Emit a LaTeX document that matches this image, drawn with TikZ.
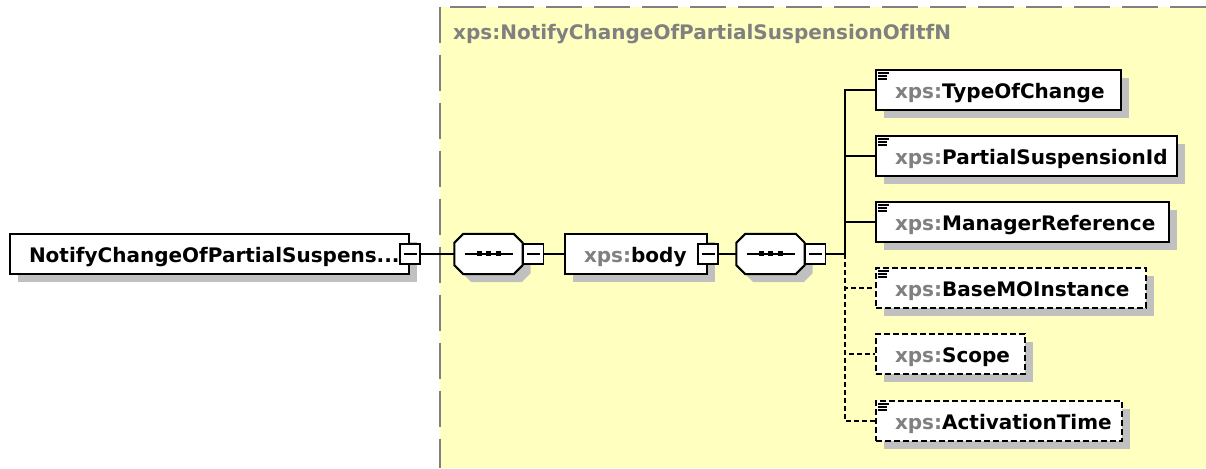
\documentclass[tikz,border=0pt]{standalone}
\usepackage{fontspec}
\setmainfont{DejaVu Sans}
\usetikzlibrary{shadows}
\definecolor{xpsgray}{RGB}{128,128,128}
\definecolor{shadowgray}{RGB}{192,192,192}
\definecolor{groupyellow}{RGB}{255,255,192}
\newcommand{\xpsprefix}{\textcolor{xpsgray}{xps:}}
\tikzset{
  boxshadow/.style={general shadow={fill=shadowgray, shadow xshift=8pt, shadow yshift=-8pt}},
  elem/.style={rectangle, draw, line width=2pt, fill=white, anchor=west,
    minimum height=40pt, inner ysep=0pt, inner xsep=19pt, text width=#1, align=left,
    text height=21.6pt, text depth=4pt, boxshadow},
  optelem/.style={elem=#1, dash pattern=on 6pt off 3pt},
  listicon/.style={path picture={
    \draw[solid, black, line width=1.2pt]
      ([xshift=2pt,yshift=-3pt]path picture bounding box.north west) -- ++(11,0)
      ([xshift=2pt,yshift=-6pt]path picture bounding box.north west) -- ++(9,0)
      ([xshift=2pt,yshift=-9pt]path picture bounding box.north west) -- ++(9,0);}},
  seqbox/.style={rectangle, minimum width=68pt, minimum height=40pt, inner sep=0pt},
  minusbox/.style={rectangle, draw, line width=1.6pt, fill=white, minimum size=20pt, inner sep=0pt,
    path picture={\draw[black, line width=1.5pt] ([xshift=-6.5pt]path picture bounding box.center) -- ([xshift=6.5pt]path picture bounding box.center);}},
  conn/.style={line width=1.3pt},
  optline/.style={dash pattern=on 5pt off 3pt},
  groupborder/.style={xpsgray, line width=2pt, dash pattern=on 36pt off 12pt}
}
\begin{document}
\begin{tikzpicture}[x=1pt, y=1pt, font=\bfseries\fontsize{20}{24}\selectfont]
\useasboundingbox (0,0) rectangle (1206,468);
\fill[groupyellow] (440,0) rectangle (1206,461);
\draw[groupborder] (440,461) -- (440,0);
\draw[groupborder] (450,461) -- (1206,461);
\node[anchor=base west, text=xpsgray, inner sep=0pt] (grouptitle) at (453,428) {xps:NotifyChangeOfPartialSuspensionOfItfN};
\node[elem=361pt] (root) at (9,214) {NotifyChangeOfPartialSuspens...};
\node[minusbox] (rootminus) at (root.east) {};
\node[seqbox] (seqA) at (488.5,214) {};
\node[seqbox] (seqB) at (770.5,214) {};
\foreach \s in {seqA,seqB} {
  \draw[line width=2pt, fill=white, boxshadow]
    ([xshift=9pt]\s.north west) -- ([xshift=-9pt]\s.north east) -- ([yshift=-9pt]\s.north east)
    -- ([yshift=9pt]\s.south east) -- ([xshift=-9pt]\s.south east) -- ([xshift=9pt]\s.south west)
    -- ([yshift=9pt]\s.south west) -- ([yshift=-9pt]\s.north west) -- cycle;
  \draw[conn] ([xshift=-24pt]\s.center) -- ([xshift=24pt]\s.center);
  \foreach \d in {-9.5,0,9.5}
    \fill[black] (\s.center) ++(\d-2.5,-2.5) rectangle ++(5,5);
}
\node[minusbox, anchor=west] (seqAminus) at (seqA.east) {};
\node[elem=104pt] (body) at (564,214) {\xpsprefix body};
\node[minusbox] (bodyminus) at (body.east) {};
\node[minusbox, anchor=west] (seqBminus) at (seqB.east) {};
\coordinate (trunk) at (845,214);
\node[elem=207pt, listicon] (typechange) at (875,378) {\xpsprefix TypeOfChange};
\node[elem=263pt, listicon] (suspid) at (875,312) {\xpsprefix PartialSuspensionId};
\node[elem=255pt, listicon] (mgrref) at (875,246) {\xpsprefix ManagerReference};
\node[optelem=232pt, listicon] (basemo) at (875,180) {\xpsprefix BaseMOInstance};
\node[optelem=111pt] (scope) at (875,114) {\xpsprefix Scope};
\node[optelem=208pt, listicon] (acttime) at (875,47) {\xpsprefix ActivationTime};
\draw[conn] (rootminus.east) -- (seqA.west);
\draw[conn] (seqAminus.east) -- (body.west);
\draw[conn] (bodyminus.east) -- (seqB.west);
\draw[conn] (seqBminus.east) -- (trunk);
\draw[conn] (trunk) |- (typechange.west);
\draw[conn] (trunk) |- (suspid.west);
\draw[conn] (trunk) |- (mgrref.west);
\draw[conn, optline] (trunk) |- (basemo.west);
\draw[conn, optline] (trunk) |- (scope.west);
\draw[conn, optline] (trunk) |- (acttime.west);
\end{tikzpicture}
\end{document}
